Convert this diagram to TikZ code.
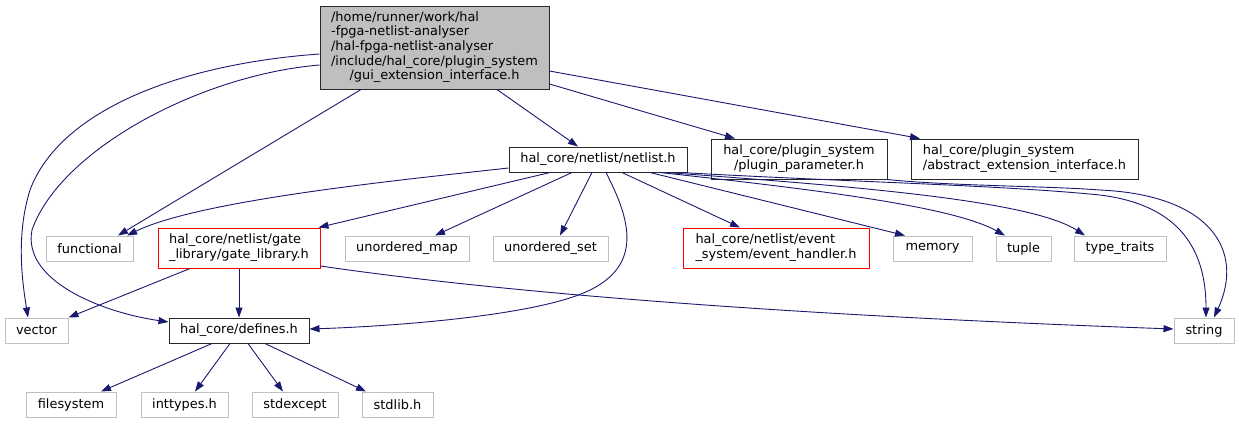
\documentclass[tikz,border=0pt]{standalone}
\usepackage{fontspec}
\setmainfont{DejaVu Sans}
\usetikzlibrary{arrows.meta,calc}
\definecolor{edgecol}{RGB}{25,25,112}
\definecolor{graybd}{RGB}{191,191,191}
\definecolor{mainfill}{RGB}{191,191,191}
\definecolor{darkbd}{RGB}{40,40,40}
\newcommand{\dlines}[1]{\begin{tabular}{@{}l@{}}#1\end{tabular}}
\newcommand{\lastc}[1]{\multicolumn{1}{@{}c@{}}{#1}}
\tikzset{
  box/.style={draw, line width=1pt, inner sep=0pt, minimum height=25pt, font=\fontsize{12.9}{14.6}\selectfont, text=black},
  graybox/.style={box, draw=graybd},
  blackbox/.style={box, draw=darkbd},
  redbox/.style={box, draw=red, minimum height=40pt},
  edge/.style={draw=edgecol, line width=0.9pt, -{Triangle[length=10pt,width=7pt]}, edgecol},
}
\begin{document}
\begin{tikzpicture}[x=1pt,y=-1pt]
\useasboundingbox (0,0) rectangle (1239,424);
% nodes
\node[blackbox, fill=mainfill, minimum width=229pt, minimum height=83pt] (main) at (434.5,47.5)
  {\dlines{/home/runner/work/hal\\-fpga-netlist-analyser\\/hal-fpga-netlist-analyser\\/include/hal\_core/plugin\_system\\\lastc{/gui\_extension\_interface.h}}};
\node[blackbox, minimum width=178pt] (netlist) at (598,159.5) {hal\_core/netlist/netlist.h};
\node[blackbox, minimum width=176pt, minimum height=40pt] (plugparam) at (799,159)
  {\dlines{hal\_core/plugin\_system\\\lastc{/plugin\_parameter.h}}};
\node[blackbox, minimum width=227pt, minimum height=40pt] (abstract) at (1024.5,159)
  {\dlines{hal\_core/plugin\_system\\\lastc{/abstract\_extension\_interface.h}}};
\node[graybox, minimum width=87pt] (functional) at (89.5,248.5) {functional};
\node[redbox, minimum width=162pt] (gatelib) at (239,248)
  {\dlines{hal\_core/netlist/gate\\\lastc{\_library/gate\_library.h}}};
\node[graybox, minimum width=124pt] (umap) at (407,248.5) {unordered\_map};
\node[graybox, minimum width=115pt] (uset) at (550.5,248.5) {unordered\_set};
\node[redbox, minimum width=186pt] (event) at (776,248)
  {\dlines{hal\_core/netlist/event\\\lastc{\_system/event\_handler.h}}};
\node[graybox, minimum width=79pt] (memory) at (932.5,248.5) {memory};
\node[graybox, minimum width=55pt] (tuple) at (1023.5,248.5) {tuple};
\node[graybox, minimum width=92pt] (typetraits) at (1120,248.5) {type\_traits};
\node[graybox, minimum width=63pt] (vector) at (36.5,330.5) {vector};
\node[blackbox, minimum width=140pt] (defines) at (239,330.5) {hal\_core/defines.h};
\node[graybox, minimum width=60pt] (string) at (1204,330.5) {string};
\node[graybox, minimum width=90pt] (filesystem) at (71,404.5) {filesystem};
\node[graybox, minimum width=87pt] (inttypes) at (184.5,404.5) {inttypes.h};
\node[graybox, minimum width=86pt] (stdexcept) at (295,404.5) {stdexcept};
\node[graybox, minimum width=71pt] (stdlib) at (397.5,404.5) {stdlib.h};
% edges from main
\draw[edge] ($(main.west)+(0,6.5)$) .. controls (180,64) and (60,110) .. (30,190)
  .. controls (16,235) and (22,280) .. ($(vector.north)+(-8.5,0)$);
\draw[edge] ($(main.west)+(0,17.5)$) .. controls (200,75) and (60,150) .. (32,230)
  .. controls (22,280) and (100,312) .. ($(defines.west)+(0,-8.5)$);
\draw[edge] ($(main.south)+(-73.5,0)$) -- ($(functional.north)+(28.5,0)$);
\draw[edge] ($(main.south)+(62.5,0)$) -- ($(netlist.north)+(-20,0)$);
\draw[edge] ($(main.east)+(0,36.5)$) -- ($(plugparam.north)+(-64,0)$);
\draw[edge] ($(main.east)+(0,23.5)$) -- ($(abstract.north)+(-104.5,0)$);
% edges from netlist
\draw[edge] ($(netlist.west)+(0,8.5)$) .. controls (400,180) and (200,200) .. ($(functional.north)+(37.5,0)$);
\draw[edge] ($(netlist.south)+(-48,0)$) -- ($(gatelib.north east)+(-2,0)$);
\draw[edge] ($(netlist.south)+(-26,0)$) -- ($(umap.north)+(28,0)$);
\draw[edge] ($(netlist.south)+(-6,0)$) -- ($(uset.north)+(9.5,0)$);
\draw[edge] ($(netlist.south)+(8,0)$) .. controls (625,210) and (648,262) .. (590,290)
  .. controls (540,315) and (400,326) .. ($(defines.east)+(0,-1.5)$);
\draw[edge] ($(netlist.south)+(24,0)$) -- ($(event.north)+(-36,0)$);
\draw[edge] ($(netlist.south)+(52,0)$) -- ($(memory.north)+(-27.5,0)$);
\draw[edge] ($(netlist.south)+(62,0)$) .. controls (800,188) and (950,205) .. ($(tuple.north)+(-18.5,0)$);
\draw[edge] ($(netlist.south)+(68,0)$) .. controls (850,186) and (1030,200) .. ($(typetraits.north)+(-35,0)$);
\draw[edge] ($(netlist.south east)+(-7,0)$) .. controls (850,182) and (1000,185) .. (1100,195)
  .. controls (1180,205) and (1206,250) .. ($(string.north)+(2,0)$);
% plugin parameter
\draw[edge] (plugparam.south east) .. controls (950,186) and (1050,186) .. (1100,190)
  .. controls (1210,195) and (1245,250) .. ($(string.north)+(10,0)$);
% gate library
\draw[edge] ($(gatelib.south)+(-49,0)$) -- (vector.north east);
\draw[edge] (gatelib.south) -- (defines.north);
\draw[edge] ($(gatelib.east)+(0,18)$) .. controls (450,285) and (700,312) .. ($(string.west)+(0,-1.5)$);
% defines
\draw[edge] ($(defines.south)+(-27,0)$) -- ($(filesystem.north)+(30,0)$);
\draw[edge] ($(defines.south)+(-9,0)$) -- ($(inttypes.north)+(10.5,0)$);
\draw[edge] ($(defines.south)+(9,0)$) -- ($(stdexcept.north)+(-12,0)$);
\draw[edge] ($(defines.south)+(26,0)$) -- ($(stdlib.north)+(-31.5,0)$);
\end{tikzpicture}
\end{document}
